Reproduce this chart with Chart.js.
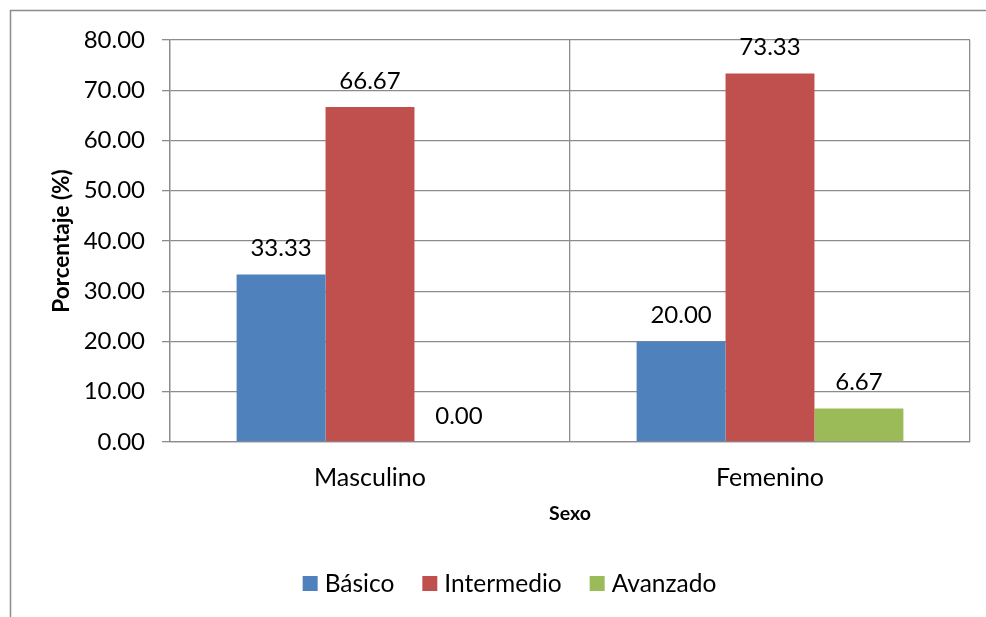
<!DOCTYPE html>
<html>
<head>
<meta charset="utf-8">
<script src="https://cdn.jsdelivr.net/npm/chart.js@4"></script>
<style>
html,body{margin:0;padding:0;background:#fff;}
canvas{display:block;}
</style>
</head>
<body>
<canvas id="c" width="986" height="617"></canvas>
<script>
const categories = ["Masculino", "Femenino"];
const seriesNames = ["Básico", "Intermedio", "Avanzado"];
const basico = [33.33, 20.00];
const intermedio = [66.67, 73.33];
const avanzado = [0.00, 6.67];
const colors = ["#4F81BD", "#C0504D", "#9BBB59"];
const yTicks = [0, 10, 20, 30, 40, 50, 60, 70, 80];
const yTitle = "Porcentaje (%)";
const xTitle = "Sexo";

const FONT = "Lato";
const GRID = "#8c8c8c";

const overlay = {
  id: "overlay",
  afterDatasetsDraw(chart) {
    const ctx = chart.ctx;
    ctx.save();
    ctx.fillStyle = "#000";
    ctx.font = "24px " + FONT;
    ctx.textAlign = "center";
    ctx.textBaseline = "middle";
    chart.data.datasets.forEach((ds, i) => {
      const meta = chart.getDatasetMeta(i);
      meta.data.forEach((bar, j) => {
        ctx.fillText(ds.data[j].toFixed(2), bar.x, bar.y - 26);
      });
    });
    ctx.restore();
  },
  afterDraw(chart) {
    const ctx = chart.ctx;
    const area = chart.chartArea;
    ctx.save();
    ctx.strokeStyle = GRID;
    ctx.lineWidth = 1.5;
    ctx.beginPath();
    ctx.moveTo(10.5, 620);
    ctx.lineTo(10.5, 10.5);
    ctx.lineTo(990, 10.5);
    ctx.stroke();
    ctx.fillStyle = "#000";
    ctx.font = "bold 22.5px " + FONT;
    ctx.textAlign = "center";
    ctx.textBaseline = "middle";
    ctx.translate(62, (area.top + area.bottom) / 2);
    ctx.rotate(-Math.PI / 2);
    ctx.fillText(yTitle, 0, 0);
    ctx.setTransform(1, 0, 0, 1, 0, 0);
    ctx.font = "bold 19.5px " + FONT;
    ctx.fillText(xTitle, (area.left + area.right) / 2, 514);
    ctx.font = "24.5px " + FONT;
    ctx.textAlign = "left";
    const box = 15, gapBox = 7, gapItem = 28;
    const items = chart.data.datasets.map(ds => ({label: ds.label, color: ds.backgroundColor, w: ctx.measureText(ds.label).width}));
    let total = 0;
    items.forEach((it, k) => { total += box + gapBox + it.w + (k < items.length - 1 ? gapItem : 0); });
    let x = 509.5 - total / 2;
    const cy = 583.5;
    items.forEach(it => {
      ctx.fillStyle = it.color;
      ctx.fillRect(x, cy - box / 2, box, box);
      ctx.fillStyle = "#000";
      ctx.fillText(it.label, x + box + gapBox, cy + 1);
      x += box + gapBox + it.w + gapItem;
    });
    ctx.restore();
  }
};

new Chart(document.getElementById("c"), {
  type: "bar",
  data: {
    labels: categories,
    datasets: [
      {label: seriesNames[0], data: basico, backgroundColor: colors[0]},
      {label: seriesNames[1], data: intermedio, backgroundColor: colors[1]},
      {label: seriesNames[2], data: avanzado, backgroundColor: colors[2]}
    ].map(d => Object.assign(d, {categoryPercentage: 0.667, barPercentage: 1.0, borderWidth: 0}))
  },
  options: {
    responsive: false,
    animation: false,
    layout: {padding: {left: 0, top: 40, right: 16, bottom: 0}},
    plugins: {legend: {display: false}, tooltip: {enabled: false}},
    scales: {
      y: {
        min: 0, max: 80,
        afterBuildTicks(scale) { scale.ticks = yTicks.map(v => ({value: v})); },
        afterFit(scale) { scale.width = 170; },
        ticks: {
          color: "#000",
          font: {family: FONT, size: 24},
          padding: 17,
          callback: v => Number(v).toFixed(2)
        },
        grid: {color: GRID, lineWidth: 1.3, tickLength: 8, drawTicks: true},
        border: {display: true, color: GRID, width: 1.3}
      },
      x: {
        afterFit(scale) { scale.height = 617 - 442; },
        ticks: {color: "#000", font: {family: FONT, size: 25}, padding: 21},
        grid: {color: GRID, lineWidth: 1.3, offset: true, drawTicks: false},
        border: {display: true, color: GRID, width: 1.3}
      }
    }
  },
  plugins: [overlay]
});
</script>
</body>
</html>
